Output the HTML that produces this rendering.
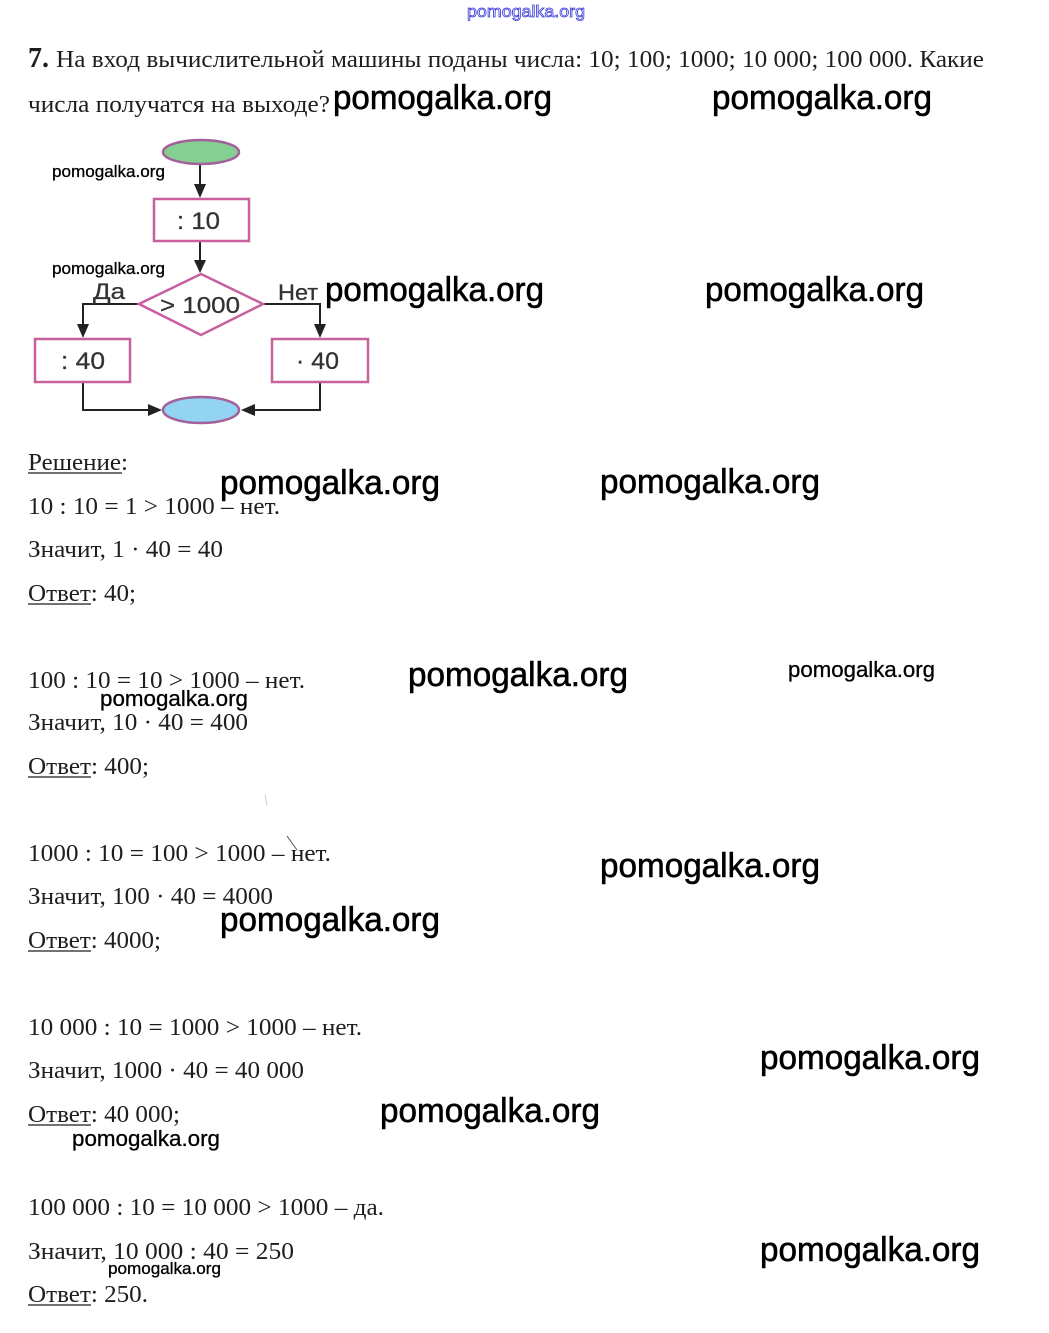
<!DOCTYPE html>
<html><head><meta charset="utf-8">
<style>
html,body{margin:0;padding:0;background:#fff;}
svg{display:block;}
.t{font-family:"Liberation Serif","Noto Serif CJK SC",serif;font-size:24px;fill:#1e1e1e;}
.w{font-family:"Liberation Sans","Noto Sans CJK SC",sans-serif;fill:#000;stroke:#000;stroke-width:0.6px;}
.ws{font-family:"Liberation Sans","Noto Sans CJK SC",sans-serif;fill:#000;stroke:#000;stroke-width:0.3px;}
.d{font-family:"Liberation Sans","Noto Sans CJK SC",sans-serif;fill:#333;stroke:#333;stroke-width:0.3px;}
</style></head>
<body>
<svg width="1049" height="1333" viewBox="0 0 1049 1333" xmlns="http://www.w3.org/2000/svg">
<rect width="1049" height="1333" fill="#fff"/>

<!-- top watermark -->
<text x="467" y="17" font-family="Liberation Sans, sans-serif" font-size="17" fill="#fff" stroke="#3a3ad8" stroke-width="0.8" textLength="118" lengthAdjust="spacingAndGlyphs">pomogalka.org</text>

<!-- heading -->
<text x="28" y="67" font-family="Liberation Serif, serif" font-size="28" font-weight="bold" fill="#1e1e1e">7.</text>
<text class="t" x="56" y="67" font-size="23" textLength="928" lengthAdjust="spacingAndGlyphs">На вход вычислительной машины поданы числа: 10; 100; 1000; 10 000; 100 000. Какие</text>
<text class="t" x="28" y="112" font-size="23" textLength="302" lengthAdjust="spacingAndGlyphs">числа получатся на выходе?</text>

<!-- diagram -->
<g stroke="#222" stroke-width="2" fill="none">
  <line x1="200" y1="163" x2="200" y2="188"/>
  <line x1="200" y1="242" x2="200" y2="262"/>
  <polyline points="139,304 83,304 83,328"/>
  <polyline points="263,304 320,304 320,328"/>
  <polyline points="83,382 83,410 152,410"/>
  <polyline points="320,383 320,410 251,410"/>
</g>
<g fill="#222">
  <polygon points="194,184 206,184 200,198"/>
  <polygon points="194,260 206,260 200,273"/>
  <polygon points="77,324 89,324 83,338"/>
  <polygon points="314,324 326,324 320,338"/>
  <polygon points="148,404 148,416 162,410"/>
  <polygon points="255,404 255,416 241,410"/>
</g>
<ellipse cx="201" cy="152" rx="38" ry="12" fill="#86cf92" stroke="#a2619a" stroke-width="2.5"/>
<ellipse cx="201" cy="410" rx="38" ry="13" fill="#92d4f2" stroke="#a2619a" stroke-width="2.5"/>
<rect x="154" y="199" width="95" height="42" fill="#fff" stroke="#c8609e" stroke-width="2.5"/>
<polygon points="139,304 201,274 263,304 201,335" fill="#fff" stroke="#c8609e" stroke-width="2.5"/>
<rect x="35" y="339" width="95" height="43" fill="#fff" stroke="#c8609e" stroke-width="2.5"/>
<rect x="272" y="339" width="96" height="43" fill="#fff" stroke="#c8609e" stroke-width="2.5"/>

<text class="d" x="177" y="229" font-size="24" textLength="43" lengthAdjust="spacingAndGlyphs">: 10</text>
<text class="d" x="160" y="313" font-size="23" textLength="80" lengthAdjust="spacingAndGlyphs">&gt; 1000</text>
<text class="d" x="61" y="369" font-size="24" textLength="44" lengthAdjust="spacingAndGlyphs">: 40</text>
<text class="d" x="296" y="369" font-size="24" textLength="43" lengthAdjust="spacingAndGlyphs">· 40</text>
<text class="d" x="93" y="299" font-size="22" fill="#444" textLength="32" lengthAdjust="spacingAndGlyphs">Да</text>
<text class="d" x="278" y="300" font-size="22" fill="#444" textLength="40" lengthAdjust="spacingAndGlyphs">Нет</text>

<!-- solution text -->
<text class="t" x="28" y="470" textLength="100" lengthAdjust="spacingAndGlyphs">Решение:</text>
<line x1="28" y1="473" x2="122" y2="473" stroke="#1e1e1e" stroke-width="1.3"/>

<text class="t" x="28" y="514" textLength="252" lengthAdjust="spacingAndGlyphs">10 : 10 = 1 &gt; 1000 – нет.</text>
<text class="t" x="28" y="557" textLength="195" lengthAdjust="spacingAndGlyphs">Значит, 1 · 40 = 40</text>
<text class="t" x="28" y="601" textLength="108" lengthAdjust="spacingAndGlyphs">Ответ: 40;</text>
<line x1="28" y1="604" x2="91" y2="604" stroke="#1e1e1e" stroke-width="1.3"/>

<text class="t" x="28" y="688" textLength="277" lengthAdjust="spacingAndGlyphs">100 : 10 = 10 &gt; 1000 – нет.</text>
<text class="t" x="28" y="730" textLength="220" lengthAdjust="spacingAndGlyphs">Значит, 10 · 40 = 400</text>
<text class="t" x="28" y="774" textLength="121" lengthAdjust="spacingAndGlyphs">Ответ: 400;</text>
<line x1="28" y1="777" x2="91" y2="777" stroke="#1e1e1e" stroke-width="1.3"/>

<text class="t" x="28" y="861" textLength="303" lengthAdjust="spacingAndGlyphs">1000 : 10 = 100 &gt; 1000 – нет.</text>
<text class="t" x="28" y="904" textLength="245" lengthAdjust="spacingAndGlyphs">Значит, 100 · 40 = 4000</text>
<text class="t" x="28" y="948" textLength="133" lengthAdjust="spacingAndGlyphs">Ответ: 4000;</text>
<line x1="28" y1="951" x2="91" y2="951" stroke="#1e1e1e" stroke-width="1.3"/>

<text class="t" x="28" y="1035" textLength="334" lengthAdjust="spacingAndGlyphs">10 000 : 10 = 1000 &gt; 1000 – нет.</text>
<text class="t" x="28" y="1078" textLength="276" lengthAdjust="spacingAndGlyphs">Значит, 1000 · 40 = 40 000</text>
<text class="t" x="28" y="1122" textLength="152" lengthAdjust="spacingAndGlyphs">Ответ: 40 000;</text>
<line x1="28" y1="1125" x2="91" y2="1125" stroke="#1e1e1e" stroke-width="1.3"/>

<text class="t" x="28" y="1215" textLength="356" lengthAdjust="spacingAndGlyphs">100 000 : 10 = 10 000 &gt; 1000 – да.</text>
<text class="t" x="28" y="1259" textLength="266" lengthAdjust="spacingAndGlyphs">Значит, 10 000 : 40 = 250</text>
<text class="t" x="28" y="1302" textLength="120" lengthAdjust="spacingAndGlyphs">Ответ: 250.</text>
<line x1="28" y1="1305" x2="91" y2="1305" stroke="#1e1e1e" stroke-width="1.3"/>

<!-- stray marks -->
<line x1="265" y1="795" x2="267" y2="805" stroke="#ccc" stroke-width="1"/>
<line x1="287" y1="836" x2="297" y2="850" stroke="#555" stroke-width="1"/>

<!-- watermarks big -->
<text class="w" x="333" y="109" font-size="34" textLength="219" lengthAdjust="spacingAndGlyphs">pomogalka.org</text>
<text class="w" x="712" y="109" font-size="34" textLength="220" lengthAdjust="spacingAndGlyphs">pomogalka.org</text>
<text class="w" x="325" y="301" font-size="34" textLength="219" lengthAdjust="spacingAndGlyphs">pomogalka.org</text>
<text class="w" x="705" y="301" font-size="34" textLength="219" lengthAdjust="spacingAndGlyphs">pomogalka.org</text>
<text class="w" x="220" y="494" font-size="34" textLength="220" lengthAdjust="spacingAndGlyphs">pomogalka.org</text>
<text class="w" x="600" y="493" font-size="34" textLength="220" lengthAdjust="spacingAndGlyphs">pomogalka.org</text>
<text class="w" x="408" y="686" font-size="34" textLength="220" lengthAdjust="spacingAndGlyphs">pomogalka.org</text>
<text class="w" x="600" y="877" font-size="34" textLength="220" lengthAdjust="spacingAndGlyphs">pomogalka.org</text>
<text class="w" x="220" y="931" font-size="34" textLength="220" lengthAdjust="spacingAndGlyphs">pomogalka.org</text>
<text class="w" x="760" y="1069" font-size="34" textLength="220" lengthAdjust="spacingAndGlyphs">pomogalka.org</text>
<text class="w" x="380" y="1122" font-size="34" textLength="220" lengthAdjust="spacingAndGlyphs">pomogalka.org</text>
<text class="w" x="760" y="1261" font-size="34" textLength="220" lengthAdjust="spacingAndGlyphs">pomogalka.org</text>
<!-- watermarks medium -->
<text class="ws" x="788" y="677" font-size="22" textLength="147" lengthAdjust="spacingAndGlyphs">pomogalka.org</text>
<text class="ws" x="100" y="706" font-size="22" textLength="148" lengthAdjust="spacingAndGlyphs">pomogalka.org</text>
<text class="ws" x="72" y="1146" font-size="22" textLength="148" lengthAdjust="spacingAndGlyphs">pomogalka.org</text>
<!-- watermarks small -->
<text class="ws" x="52" y="177" font-size="17" textLength="113" lengthAdjust="spacingAndGlyphs">pomogalka.org</text>
<text class="ws" x="52" y="274" font-size="17" textLength="113" lengthAdjust="spacingAndGlyphs">pomogalka.org</text>
<text class="ws" x="108" y="1274" font-size="17" textLength="113" lengthAdjust="spacingAndGlyphs">pomogalka.org</text>
</svg>
</body></html>
